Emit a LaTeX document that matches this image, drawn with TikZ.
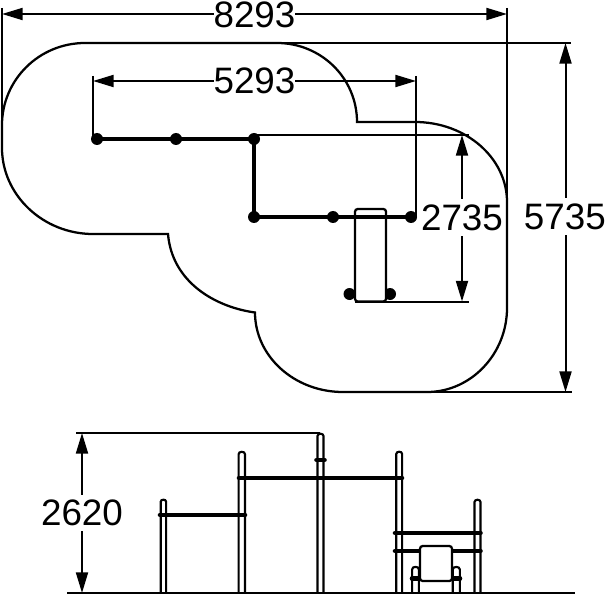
\documentclass[tikz,border=0pt]{standalone}
\usepackage{fontspec}
\setmainfont{Liberation Sans}
\usetikzlibrary{arrows.meta}

\tikzset{
  outline/.style={line width=1.7pt},
  extline/.style={line width=1.5pt},
  dimline/.style={line width=1.5pt,<->},
  dimlabel/.style={fill=white,font=\fontsize{27.6pt}{27.6pt}\selectfont,inner xsep=0pt,inner ysep=4pt},
  footing/.style={circle,fill=black,inner sep=0pt,minimum size=9pt},
  rail/.style={line width=3pt},
  crossbar/.style={line width=3.4pt,line cap=round},
  upright/.style={line width=1.6pt},
  seat/.style={line width=1.7pt,rounded corners=2pt,fill=white},
}

\begin{document}
\begin{tikzpicture}[x=0.75pt,y=-0.75pt,>={Triangle[length=15.5pt,width=9pt]}]
\useasboundingbox (0,0) rectangle (606,595);

% plan: surfacing outline
\draw[outline] (85,43) -- (277,43)
  .. controls (321,43) and (357,78) .. (357,122) -- (415,122)
  .. controls (466,122) and (507,158) .. (507,202) -- (507,308)
  .. controls (507,354) and (471,392) .. (427,392) -- (343,392)
  .. controls (294,392) and (255,356) .. (255,312.5)
  .. controls (215,307) and (172,282) .. (168,234) -- (93,234)
  .. controls (43,234) and (2,195) .. (2,148) -- (2,125)
  .. controls (2,80) and (39,43) .. (85,43);

% plan: footings
\node[footing] (a1) at (97,139) {};
\node[footing] (a2) at (176,139) {};
\node[footing] (a3) at (254,139) {};
\node[footing] (b1) at (254,217) {};
\node[footing] (b2) at (333,217) {};
\node[footing] (b3) at (411,217) {};
\node[footing] (c1) at (349.5,294) {};
\node[footing] (c2) at (390,294) {};

% plan: bench, then bars over it
\draw[seat] (355,301.5) -- (355,209) -- (386,209) -- (386,301.5) -- cycle;
\draw[rail] (a1.center) -- (a2.center) -- (a3.center);
\draw[rail,line width=3.4pt] (a3.center) -- (b1.center);
\draw[rail] (b1.center) -- (b2.center) -- (b3.center);

% plan: dimensions
\coordinate (wL) at (2,14);
\coordinate (wR) at (507,14);
\coordinate (wLtop) at (2,8);
\coordinate (wLend) at (2,125);
\coordinate (wRtop) at (507,8);
\coordinate (wRend) at (507,202);
\draw[extline] (wLtop) -- (wLend);
\draw[extline] (wRtop) -- (wRend);
\draw[dimline] (wL) -- node[dimlabel,inner ysep=0pt,yshift=-1pt] (lblW) {8293} (wR);

\coordinate (iL) at (93,81);
\coordinate (iR) at (416,81);
\coordinate (iLtop) at (93,76);
\coordinate (iLend) at (93,139);
\coordinate (iRtop) at (416,76);
\coordinate (iRend) at (416,217);
\draw[extline] (iLtop) -- (iLend);
\draw[extline] (iRtop) -- (iRend);
\draw[dimline] (iL) -- node[dimlabel] (lblI) {5293} (iR);

\coordinate (dT) at (462,135);
\coordinate (dB) at (462,301.5);
\coordinate (dText) at (254,135);
\coordinate (dTend) at (469,135);
\coordinate (dBtext) at (355,301.5);
\coordinate (dBend) at (469,301.5);
\draw[extline] (dText) -- (dTend);
\draw[extline] (dBtext) -- (dBend);
\draw[dimline] (dT) -- node[dimlabel,pos=0.495] (lblD) {2735} (dB);

\coordinate (hT) at (565.5,43);
\coordinate (hB) at (565.5,392);
\coordinate (hText) at (277,43);
\coordinate (hTend) at (571,43);
\coordinate (hBtext) at (427,392);
\coordinate (hBend) at (572,392);
\draw[extline] (hText) -- (hTend);
\draw[extline] (hBtext) -- (hBend);
\draw[dimline] (hT) -- node[dimlabel,pos=0.497,xshift=-0.5pt] (lblH) {5735} (hB);

% side view: posts
\foreach \px/\ptop/\ph in {163.4/499/2.7,241.8/451/3.2,320.5/433/3,399.2/451/2.9,477.5/499/3,415.5/566/3.4,456.3/566/3.6}
  \draw[upright] (\px-\ph,593) -- (\px-\ph,\ptop+\ph) .. controls (\px-\ph,\ptop) and (\px+\ph,\ptop) .. (\px+\ph,\ptop+\ph) -- (\px+\ph,593);

% side view: bars
\coordinate (s1) at (160,515);
\coordinate (s2) at (245,515);
\coordinate (s3) at (239,478);
\coordinate (s4) at (402,478);
\coordinate (s5) at (316.5,460);
\coordinate (s6) at (324.5,460);
\coordinate (s7) at (395,533);
\coordinate (s8) at (480.5,533);
\coordinate (s9) at (395,551);
\coordinate (s10) at (480.5,551);
\coordinate (s11) at (412,578.5);
\coordinate (s12) at (419,578.5);
\coordinate (s13) at (453,578.5);
\coordinate (s14) at (460,578.5);
\draw[crossbar] (s1) -- (s2);
\draw[crossbar] (s3) -- (s4);
\draw[crossbar] (s5) -- (s6);
\draw[crossbar] (s7) -- (s8);
\draw[crossbar] (s9) -- (s10);
\draw[crossbar] (s11) -- (s12);
\draw[crossbar] (s13) -- (s14);
\draw[seat] (420,581) -- (420,546) -- (452,546) -- (452,581) -- cycle;

% side view: ground and height
\coordinate (gL) at (67,593);
\coordinate (gR) at (575,593);
\draw[line width=1.9pt] (gL) -- (gR);
\coordinate (tL) at (76,433);
\coordinate (tR) at (320,433);
\draw[line width=1.6pt] (tL) -- (tR);
\coordinate (vT) at (82,433);
\coordinate (vB) at (82,593);
\draw[dimline] (vT) -- node[dimlabel] (lblV) {2620} (vB);
\end{tikzpicture}
\end{document}
